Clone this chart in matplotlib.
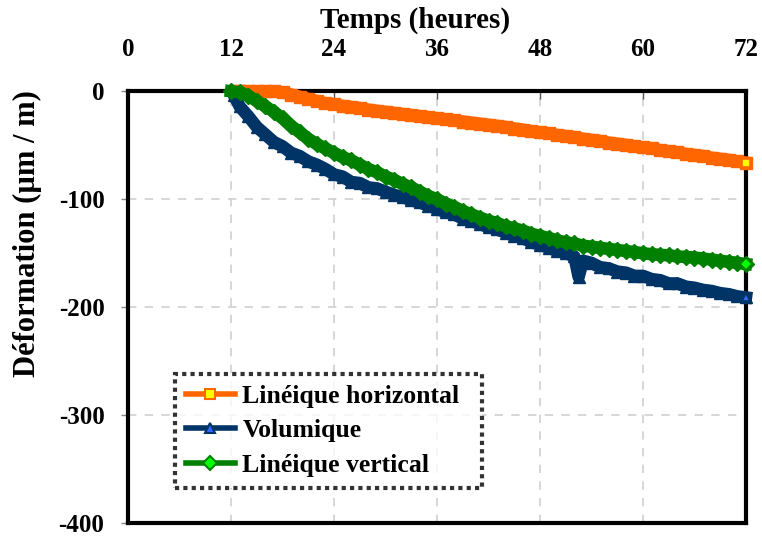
import numpy as np
from matplotlib import pyplot as plt
from matplotlib.lines import Line2D

# temps (heures)
t_h = [12.8, 13, 14, 15, 16, 17, 18, 19, 20, 21, 22, 23, 24, 25, 26, 27, 28, 29, 30,
       31, 32, 33, 34, 35, 36, 37, 38, 39, 40, 41, 42, 43, 44, 45, 46, 47, 48, 49, 50,
       51, 52, 53, 54, 55, 56, 57, 58, 59, 60, 61, 62, 63, 64, 65, 66, 67, 68, 69, 70,
       71, 72]
horizontal = [0, 0, 0, 0, 0, 0, -1, -3, -5, -7, -9, -11, -12, -13.5, -14.5, -15.5, -17, -18, -19,
              -20, -21, -22, -23, -24, -25, -26, -27, -28, -29, -30, -31, -32, -33, -34.5, -35.5, -37, -38, -39, -40.5,
              -41.5, -42.5, -44, -45, -46, -47.5, -48.5, -49.5, -51, -52, -53, -54.5, -55.5, -56.5, -58, -59, -60, -61.5, -62.5, -63.5,
              -65, -66]

t_v = [12.3, 13, 14, 15, 16, 17, 18, 19, 20, 21, 22, 23, 24, 25, 26, 27, 28, 29, 30,
       31, 32, 33, 34, 35, 36, 37, 38, 39, 40, 41, 42, 43, 44, 45, 46, 47, 48, 49, 50,
       51, 52, 52.5, 53, 54, 55, 56, 57, 58, 59, 60, 61, 62, 63, 64, 65, 66, 67, 68, 69, 70,
       71, 72]
volumique = [-3, -14, -23, -33, -40, -47, -51, -57, -60, -65, -68, -72, -77, -79, -84, -85, -89, -90, -93,
             -96, -98, -101, -103, -106, -109, -112, -114, -118, -120, -123, -126, -128, -131, -134, -136, -140, -142, -145, -148,
             -150, -153, -172, -157, -159, -163, -164, -167, -168, -171, -171, -174, -175, -178, -178, -181, -182, -184, -185, -187, -188,
             -190, -191]

t_g = [12, 13, 14, 15, 16, 17, 18, 19, 20, 21, 22, 23, 24, 25, 26, 27, 28, 29, 30,
       31, 32, 33, 34, 35, 36, 37, 38, 39, 40, 41, 42, 43, 44, 45, 46, 47, 48, 49, 50,
       51, 52, 53, 54, 55, 56, 57, 58, 59, 60, 61, 62, 63, 64, 65, 66, 67, 68, 69, 70,
       71, 72]
vertical = [0, -1, -4, -9, -14, -19, -25, -32, -38, -44, -49, -53, -57, -61, -64, -68, -72, -75, -79,
            -82, -86, -89, -93, -97, -100, -104, -107, -111, -114, -117, -120, -122, -125, -127, -129, -132, -134, -136, -138,
            -140, -141, -143, -144, -145, -146, -147, -148, -149, -150, -151, -151.5, -152, -153, -153.5, -154, -155, -156, -157, -158,
            -159, -160]

plt.rcParams['font.family'] = ['Liberation Serif', 'DejaVu Serif']
plt.rcParams['font.weight'] = 'bold'

fig = plt.figure(figsize=(7.62, 5.37), dpi=100)
ax = fig.add_axes([0.168, 0.026, 0.811, 0.804])

series = [
    (t_h, horizontal, '#FF6600', 's', '#FFFF00', 'Linéique horizontal'),
    (t_v, volumique, '#003366', '^', '#3366FF', 'Volumique'),
    (t_g, vertical, '#008000', 'D', '#00FF00', 'Linéique vertical'),
]
handles = []
for x, y, c, m, fc, lab in series:
    ax.plot(x, y, color=c, lw=9, marker=m, ms=8.5, mfc=c, mec=c, clip_on=False, zorder=3)
    ax.plot(x[-1:], y[-1:], ls='none', marker=m, ms=6, mfc=fc, mec=c, mew=1.2,
            clip_on=False, zorder=4)
    handles.append(Line2D([], [], color=c, lw=4, marker=m, ms=7, mfc=fc, mec=c, mew=1.5, label=lab))

ax.set_xlim(0, 72)
ax.set_ylim(-400, 0)
ax.set_xticks(np.arange(0, 73, 12))
ax.set_yticks(np.arange(-400, 1, 100))
ax.set_yticklabels([str(v) for v in range(-400, 1, 100)])
ax.xaxis.tick_top()
ax.xaxis.set_label_position('top')
ax.tick_params(axis='x', direction='in', length=6, width=1, color='#555555', labelsize=18, pad=22)
ax.tick_params(axis='y', direction='out', length=5, width=1, color='#888888', labelsize=18, pad=12)
ax.grid(True, color='#CFCFCF', ls=(0, (5, 5)), lw=1.2)
ax.set_axisbelow(True)
for s in ax.spines.values():
    s.set_linewidth(3)
    s.set_color('black')

ax.set_xlabel('Temps (heures)', fontsize=21, fontweight='bold', labelpad=7)
ax.xaxis.label.set_x(0.464)
ax.set_ylabel('Déformation (µm / m)', fontsize=22, fontweight='bold')
ax.yaxis.set_label_coords(-0.139, 0.67)

leg = ax.legend(handles=handles, loc='lower left', bbox_to_anchor=(0.076, 0.081, 0.497, 0.285),
                mode='expand', fontsize=18.5, frameon=True, fancybox=False, handlelength=1.9,
                borderpad=0.42, labelspacing=0.46, handletextpad=0.3, borderaxespad=0)
fr = leg.get_frame()
fr.set_edgecolor('black')
fr.set_linewidth(3)
fr.set_linestyle((0, (1, 1)))

plt.savefig('out.png', dpi=100)
